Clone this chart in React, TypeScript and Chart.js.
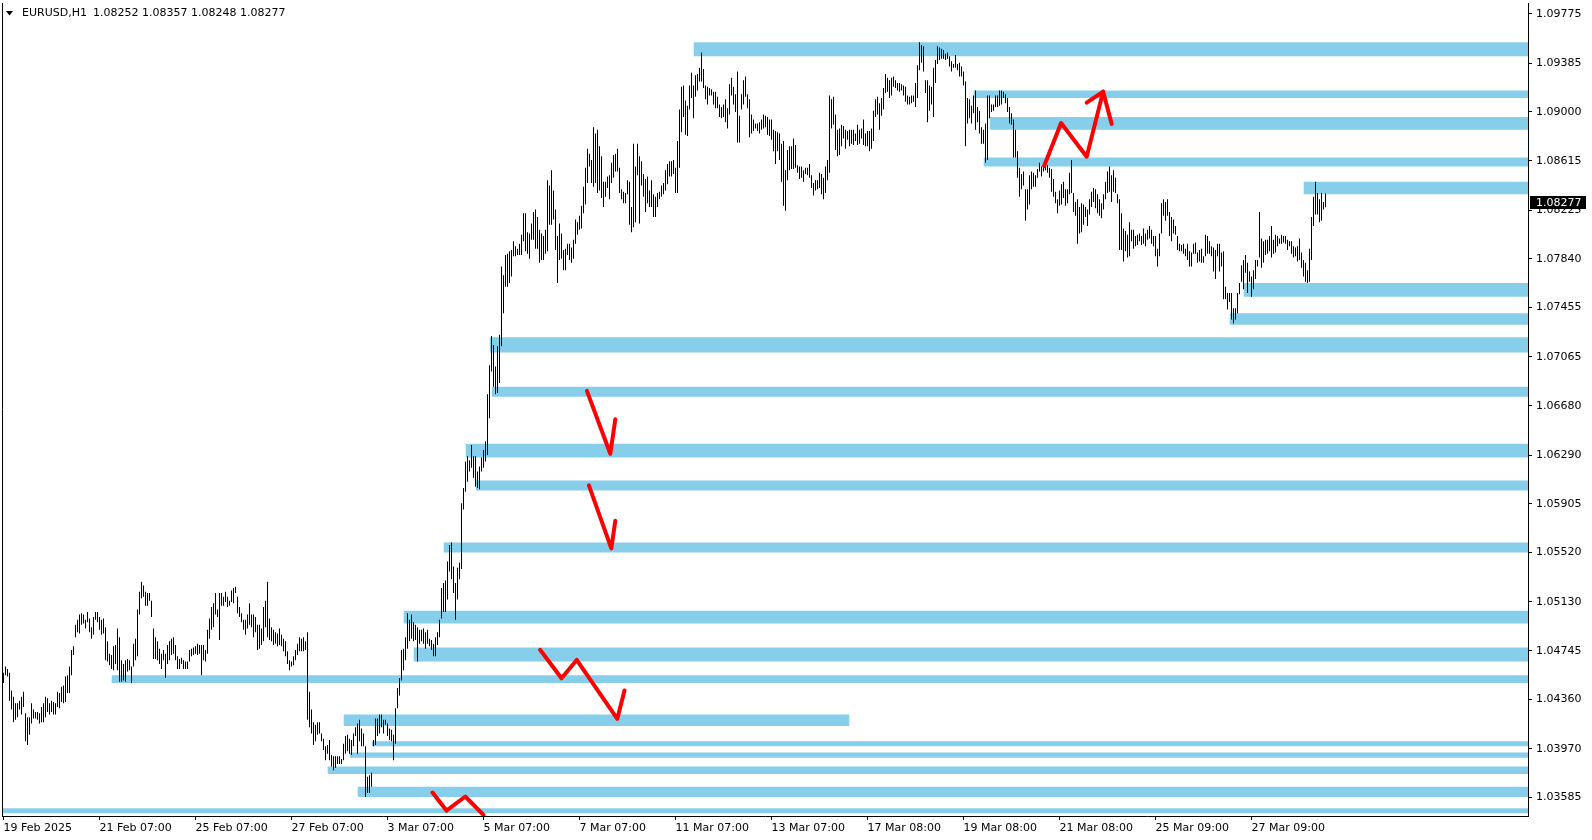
import React, { useEffect, useRef } from 'react';
import { Chart, registerables } from 'chart.js';

Chart.register(...registerables);

// ---------- header ----------
const symbolHeader = 'EURUSD,H1';
const headerOHLC = ['1.08252', '1.08357', '1.08248', '1.08277'];
const lastClose = 1.08277;

// ---------- H1 bars (high / low), bar index 0 = 19 Feb 2025 07:00 ----------
const highs = [
  1.0457,1.0462,1.0460,1.0457,1.0443,1.0438,1.0433,1.0433,1.0435,1.0438,
  1.0442,1.0425,1.0422,1.0422,1.0433,1.0428,1.0426,1.0426,1.0425,1.0430,
  1.0433,1.0438,1.0437,1.0433,1.0435,1.0434,1.0433,1.0442,1.0441,1.0446,
  1.0447,1.0454,1.0455,1.0462,1.0475,1.0478,1.0495,1.0499,1.0503,1.0504,
  1.0503,1.0499,1.0505,1.0500,1.0493,1.0501,1.0505,1.0505,1.0501,1.0499,
  1.0500,1.0493,1.0482,1.0472,1.0471,1.0478,1.0479,1.0492,1.0485,1.0467,
  1.0464,1.0467,1.0468,1.0467,1.0462,1.0480,1.0484,1.0507,1.0521,1.0529,
  1.0526,1.0521,1.0520,1.0520,1.0514,1.0492,1.0485,1.0482,1.0476,1.0472,
  1.0475,1.0472,1.0479,1.0482,1.0484,1.0485,1.0479,1.0470,1.0468,1.0469,
  1.0467,1.0466,1.0466,1.0475,1.0476,1.0477,1.0478,1.0480,1.0479,1.0479,
  1.0479,1.0475,1.0491,1.0500,1.0509,1.0512,1.0520,1.0507,1.0520,1.0520,
  1.0517,1.0521,1.0517,1.0514,1.0522,1.0524,1.0525,1.0517,1.0509,1.0504,
  1.0499,1.0499,1.0503,1.0512,1.0503,1.0503,1.0501,1.0495,1.0495,1.0492,
  1.0509,1.0514,1.0529,1.0500,1.0493,1.0491,1.0489,1.0488,1.0492,1.0487,
  1.0484,1.0482,1.0474,1.0467,1.0466,1.0470,1.0475,1.0480,1.0485,1.0484,
  1.0485,1.0482,1.0489,1.0442,1.0428,1.0418,1.0416,1.0418,1.0418,1.0409,
  1.0405,1.0399,1.0400,1.0404,1.0392,1.0391,1.0391,1.0391,1.0391,1.0389,
  1.0401,1.0407,1.0408,1.0405,1.0404,1.0409,1.0414,1.0417,1.0420,1.0413,
  1.0409,1.0399,1.0375,1.0376,1.0378,1.0404,1.0421,1.0421,1.0424,1.0424,
  1.0420,1.0420,1.0417,1.0413,1.0412,1.0408,1.0429,1.0445,1.0453,1.0475,
  1.0476,1.0485,1.0504,1.0499,1.0503,1.0497,1.0495,1.0493,1.0491,1.0491,
  1.0492,1.0489,1.0491,1.0484,1.0483,1.0480,1.0485,1.0489,1.0499,1.0524,
  1.0528,1.0530,1.0545,1.0558,1.0560,1.0541,1.0528,1.0540,1.0544,1.0591,
  1.0603,1.0624,1.0628,1.0625,1.0637,1.0628,1.0628,1.0616,1.0620,1.0627,
  1.0633,1.0640,1.0677,1.0700,1.0723,1.0716,1.0699,1.0715,1.0724,1.0778,
  1.0771,1.0787,1.0788,1.0790,1.0791,1.0798,1.0794,1.0792,1.0796,1.0803,
  1.0820,1.0820,1.0805,1.0804,1.0812,1.0821,1.0823,1.0817,1.0807,1.0804,
  1.0802,1.0807,1.0846,1.0842,1.0854,1.0838,1.0823,1.0802,1.0812,1.0804,
  1.0791,1.0792,1.0796,1.0796,1.0793,1.0799,1.0815,1.0813,1.0818,1.0826,
  1.0841,1.0856,1.0871,1.0867,1.0862,1.0888,1.0883,1.0886,1.0873,1.0865,
  1.0845,1.0845,1.0849,1.0850,1.0860,1.0866,1.0867,1.0871,1.0856,1.0839,
  1.0837,1.0836,1.0846,1.0845,1.0825,1.0875,1.0857,1.0875,1.0865,1.0861,
  1.0851,1.0847,1.0849,1.0838,1.0846,1.0835,1.0833,1.0836,1.0837,1.0842,
  1.0844,1.0854,1.0859,1.0861,1.0861,1.0862,1.0856,1.0877,1.0902,1.0920,
  1.0921,1.0909,1.0905,1.0921,1.0931,1.0921,1.0929,1.0930,1.0935,1.0947,
  1.0934,1.0921,1.0920,1.0919,1.0918,1.0916,1.0916,1.0912,1.0906,1.0904,
  1.0906,1.0910,1.0903,1.0922,1.0927,1.0920,1.0914,1.0932,1.0897,1.0914,
  1.0925,1.0928,1.0914,1.0910,1.0898,1.0894,1.0891,1.0891,1.0892,1.0894,
  1.0898,1.0897,1.0896,1.0894,1.0894,1.0886,1.0885,1.0884,1.0883,1.0875,
  1.0877,1.0854,1.0870,1.0873,1.0873,1.0879,1.0874,1.0858,1.0857,1.0857,
  1.0854,1.0856,1.0856,1.0859,1.0850,1.0844,1.0846,1.0846,1.0852,1.0851,
  1.0848,1.0857,1.0862,1.0913,1.0910,1.0912,1.0898,1.0886,1.0887,1.0890,
  1.0889,1.0886,1.0885,1.0886,1.0886,1.0886,1.0883,1.0890,1.0886,1.0887,
  1.0894,1.0883,1.0885,1.0885,1.0887,1.0901,1.0910,1.0912,1.0907,1.0911,
  1.0919,1.0930,1.0927,1.0925,1.0927,1.0928,1.0925,1.0923,1.0923,1.0922,
  1.0921,1.0920,1.0913,1.0912,1.0913,1.0913,1.0923,1.0937,1.0955,1.0953,
  1.0952,1.0925,1.0925,1.0921,1.0920,1.0935,1.0941,1.0952,1.0951,1.0950,
  1.0949,1.0946,1.0947,1.0944,1.0940,1.0938,1.0945,1.0938,1.0939,1.0936,
  1.0932,1.0924,1.0911,1.0910,1.0905,1.0913,1.0917,1.0904,1.0901,1.0888,
  1.0886,1.0891,1.0913,1.0913,1.0906,1.0906,1.0913,1.0913,1.0917,1.0917,
  1.0916,1.0914,1.0911,1.0904,1.0899,1.0894,1.0886,1.0869,1.0856,1.0851,
  1.0853,1.0839,1.0839,1.0850,1.0853,1.0852,1.0850,1.0855,1.0860,1.0857,
  1.0859,1.0860,1.0858,1.0856,1.0855,1.0847,1.0837,1.0831,1.0838,1.0843,
  1.0845,1.0839,1.0839,1.0852,1.0862,1.0836,1.0829,1.0831,1.0825,1.0828,
  1.0827,1.0825,1.0823,1.0831,1.0837,1.0840,1.0839,1.0835,1.0831,1.0828,
  1.0835,1.0845,1.0853,1.0857,1.0850,1.0854,1.0848,1.0835,1.0831,1.0820,
  1.0808,1.0806,1.0803,1.0813,1.0807,1.0807,1.0802,1.0803,1.0804,1.0802,
  1.0808,1.0804,1.0807,1.0810,1.0807,1.0802,1.0802,1.0792,1.0804,1.0828,
  1.0831,1.0829,1.0831,1.0821,1.0817,1.0815,1.0810,1.0802,1.0796,1.0795,
  1.0796,1.0792,1.0796,1.0790,1.0789,1.0796,1.0797,1.0789,1.0791,1.0792,
  1.0786,1.0803,1.0802,1.0798,1.0794,1.0793,1.0791,1.0796,1.0796,1.0789,
  1.0790,1.0762,1.0757,1.0757,1.0757,1.0745,1.0745,1.0757,1.0765,1.0779,
  1.0783,1.0787,1.0781,1.0774,1.0770,1.0775,1.0783,1.0783,1.0821,1.0800,
  1.0798,1.0799,1.0799,1.0802,1.0810,1.0799,1.0803,1.0802,1.0800,1.0803,
  1.0802,1.0802,1.0799,1.0798,1.0798,1.0794,1.0793,1.0794,1.0800,1.0789,
  1.0783,1.0781,1.0775,1.0792,1.0817,1.0833,1.0845,1.0836,1.0831,1.0836,
  1.0829,1.08357
];

const lows = [
  1.0449,1.0455,1.0454,1.0435,1.0428,1.0418,1.0420,1.0422,1.0428,1.0424,
  1.0430,1.0403,1.0400,1.0408,1.0417,1.0421,1.0421,1.0420,1.0417,1.0418,
  1.0418,1.0422,1.0426,1.0424,1.0426,1.0424,1.0424,1.0430,1.0429,1.0434,
  1.0433,1.0434,1.0441,1.0441,1.0455,1.0471,1.0485,1.0489,1.0488,1.0495,
  1.0496,1.0492,1.0497,1.0489,1.0484,1.0487,1.0499,1.0497,1.0491,1.0487,
  1.0488,1.0467,1.0466,1.0463,1.0460,1.0459,1.0464,1.0459,1.0450,1.0450,
  1.0451,1.0450,1.0458,1.0459,1.0449,1.0462,1.0467,1.0470,1.0503,1.0516,
  1.0517,1.0510,1.0510,1.0514,1.0501,1.0468,1.0468,1.0467,1.0464,1.0460,
  1.0467,1.0453,1.0464,1.0467,1.0471,1.0472,1.0467,1.0460,1.0460,1.0464,
  1.0460,1.0460,1.0460,1.0466,1.0470,1.0471,1.0472,1.0471,1.0472,1.0455,
  1.0467,1.0466,1.0472,1.0484,1.0491,1.0493,1.0503,1.0501,1.0483,1.0510,
  1.0510,1.0513,1.0509,1.0510,1.0513,1.0512,1.0520,1.0504,1.0501,1.0497,
  1.0491,1.0487,1.0492,1.0495,1.0493,1.0485,1.0489,1.0475,1.0476,1.0479,
  1.0482,1.0493,1.0485,1.0483,1.0482,1.0479,1.0480,1.0478,1.0479,1.0478,
  1.0474,1.0470,1.0464,1.0459,1.0462,1.0463,1.0467,1.0471,1.0474,1.0474,
  1.0474,1.0475,1.0420,1.0414,1.0409,1.0400,1.0403,1.0408,1.0409,1.0403,
  1.0396,1.0388,1.0393,1.0388,1.0383,1.0380,1.0382,1.0385,1.0385,1.0385,
  1.0388,1.0393,1.0395,1.0393,1.0392,1.0399,1.0407,1.0393,1.0403,1.0399,
  1.0399,1.0359,1.0362,1.0362,1.0367,1.0399,1.0400,1.0407,1.0409,1.0414,
  1.0409,1.0416,1.0407,1.0404,1.0403,1.0388,1.0401,1.0429,1.0439,1.0451,
  1.0459,1.0467,1.0476,1.0482,1.0484,1.0482,1.0483,1.0466,1.0480,1.0482,
  1.0480,1.0476,1.0480,1.0478,1.0475,1.0470,1.0470,1.0479,1.0485,1.0500,
  1.0505,1.0505,1.0515,1.0537,1.0531,1.0520,1.0499,1.0515,1.0531,1.0539,
  1.0586,1.0600,1.0608,1.0616,1.0619,1.0611,1.0604,1.0603,1.0602,1.0616,
  1.0619,1.0624,1.0629,1.0658,1.0695,1.0683,1.0677,1.0678,1.0686,1.0715,
  1.0741,1.0762,1.0762,1.0765,1.0770,1.0786,1.0786,1.0787,1.0787,1.0787,
  1.0798,1.0790,1.0788,1.0784,1.0799,1.0799,1.0792,1.0792,1.0781,1.0783,
  1.0783,1.0788,1.0790,1.0811,1.0811,1.0815,1.0791,1.0765,1.0783,1.0784,
  1.0775,1.0775,1.0787,1.0783,1.0781,1.0784,1.0796,1.0803,1.0807,1.0808,
  1.0820,1.0827,1.0844,1.0857,1.0844,1.0841,1.0844,1.0836,1.0838,1.0832,
  1.0825,1.0833,1.0840,1.0831,1.0844,1.0848,1.0853,1.0853,1.0836,1.0831,
  1.0828,1.0828,1.0835,1.0811,1.0805,1.0809,1.0813,1.0850,1.0812,1.0842,
  1.0833,1.0821,1.0828,1.0825,1.0825,1.0817,1.0817,1.0825,1.0831,1.0833,
  1.0835,1.0838,1.0843,1.0849,1.0849,1.0851,1.0836,1.0836,1.0856,1.0884,
  1.0896,1.0882,1.0881,1.0902,1.0911,1.0895,1.0912,1.0917,1.0924,1.0924,
  1.0919,1.0910,1.0906,1.0913,1.0913,1.0906,1.0903,1.0903,1.0896,1.0895,
  1.0896,1.0892,1.0887,1.0898,1.0913,1.0906,1.0900,1.0876,1.0876,1.0902,
  1.0906,1.0912,1.0903,1.0880,1.0883,1.0885,1.0887,1.0885,1.0883,1.0886,
  1.0887,1.0888,1.0882,1.0881,1.0878,1.0869,1.0859,1.0869,1.0862,1.0845,
  1.0826,1.0822,1.0846,1.0854,1.0855,1.0855,1.0856,1.0852,1.0847,1.0848,
  1.0845,1.0851,1.0850,1.0848,1.0840,1.0834,1.0838,1.0839,1.0840,1.0835,
  1.0831,1.0836,1.0846,1.0852,1.0887,1.0890,1.0870,1.0865,1.0866,1.0873,
  1.0879,1.0871,1.0878,1.0873,1.0875,1.0874,1.0877,1.0874,1.0875,1.0879,
  1.0874,1.0873,1.0873,1.0869,1.0871,1.0877,1.0896,1.0898,1.0886,1.0897,
  1.0902,1.0915,1.0916,1.0911,1.0913,1.0920,1.0919,1.0917,1.0916,1.0917,
  1.0913,1.0908,1.0906,1.0906,1.0907,1.0908,1.0904,1.0911,1.0933,1.0939,
  1.0932,1.0915,1.0892,1.0901,1.0906,1.0896,1.0923,1.0938,1.0941,1.0942,
  1.0942,1.0941,1.0942,1.0936,1.0932,1.0935,1.0935,1.0933,1.0928,1.0928,
  1.0921,1.0873,1.0891,1.0895,1.0891,1.0899,1.0886,1.0892,1.0883,1.0875,
  1.0875,1.0860,1.0862,1.0895,1.0900,1.0901,1.0904,1.0904,1.0905,1.0906,
  1.0911,1.0907,1.0900,1.0891,1.0890,1.0864,1.0864,1.0848,1.0833,1.0839,
  1.0842,1.0814,1.0823,1.0827,1.0839,1.0841,1.0841,1.0848,1.0853,1.0849,
  1.0853,1.0854,1.0852,1.0848,1.0837,1.0833,1.0828,1.0820,1.0826,1.0827,
  1.0832,1.0826,1.0828,1.0835,1.0836,1.0821,1.0818,1.0796,1.0804,1.0805,
  1.0811,1.0817,1.0810,1.0819,1.0825,1.0829,1.0824,1.0820,1.0818,1.0816,
  1.0823,1.0831,1.0836,1.0837,1.0829,1.0837,1.0836,1.0828,1.0791,1.0791,
  1.0782,1.0790,1.0785,1.0786,1.0798,1.0792,1.0794,1.0795,1.0798,1.0795,
  1.0796,1.0794,1.0799,1.0800,1.0796,1.0794,1.0786,1.0778,1.0786,1.0804,
  1.0818,1.0814,1.0818,1.0802,1.0798,1.0804,1.0803,1.0791,1.0790,1.0790,
  1.0788,1.0786,1.0783,1.0778,1.0778,1.0788,1.0788,1.0781,1.0782,1.0781,
  1.0781,1.0786,1.0788,1.0788,1.0786,1.0774,1.0768,1.0786,1.0774,1.0778,
  1.0752,1.0752,1.0744,1.0750,1.0736,1.0733,1.0736,1.0741,1.0756,1.0766,
  1.0760,1.0773,1.0757,1.0766,1.0754,1.0760,1.0768,1.0778,1.0785,1.0777,
  1.0781,1.0787,1.0788,1.0790,1.0785,1.0788,1.0789,1.0794,1.0796,1.0796,
  1.0797,1.0796,1.0791,1.0794,1.0788,1.0785,1.0786,1.0782,1.0783,1.0777,
  1.0770,1.0766,1.0765,1.0766,1.0783,1.0810,1.0819,1.0819,1.0813,1.0814,
  1.0823,1.08248
];

// ---------- time axis ----------
const xTickBars = [0, 48, 96, 144, 192, 240, 288, 336, 384, 432, 480, 528, 576, 624];
const xTickLabels = [
  '19 Feb 2025', '21 Feb 07:00', '25 Feb 07:00', '27 Feb 07:00', '3 Mar 07:00',
  '5 Mar 07:00', '7 Mar 07:00', '11 Mar 07:00', '13 Mar 07:00', '17 Mar 08:00',
  '19 Mar 08:00', '21 Mar 08:00', '25 Mar 09:00', '27 Mar 09:00'
];

// ---------- price axis ----------
const yTickValues = [
  1.03585, 1.03970, 1.04360, 1.04745, 1.05130, 1.05520, 1.05905, 1.06290, 1.06680,
  1.07065, 1.07455, 1.07840, 1.08225, 1.08615, 1.09000, 1.09385, 1.09775
];
const priceMin = 1.03439;
const priceMax = 1.09861;
const barMin = -0.75;
const barMax = 762.25;

// ---------- supply / demand zones ----------
const zoneStart = [345, 485, 493, 490, 650, 620, 613, 243, 244, 231, 236, 220, 200, 205, 54, 170, 184, 173, 162, 177, -1];
const zoneEnd = [null, null, null, null, null, null, null, null, null, null, null, null, null, null, null, 423, null, null, null, null, null];
const zoneTop = [1.0955, 1.0917, 1.0896, 1.0864, 1.0845, 1.0765, 1.0741, 1.0722, 1.0683, 1.0638, 1.0609, 1.0560, 1.0506, 1.0477, 1.0455, 1.0424, 1.0403, 1.0394, 1.0383, 1.0367, 1.0350];
const zoneBottom = [1.0944, 1.0911, 1.0886, 1.0857, 1.0835, 1.0754, 1.0732, 1.0710, 1.0675, 1.0627, 1.0601, 1.0552, 1.0496, 1.0466, 1.0449, 1.0415, 1.0399, 1.0390, 1.0377, 1.0359, 1.0346];

// ---------- hand-drawn red arrows (bar index, price) ----------
const arrowAX = [291.7, 303.4, 305.9];
const arrowAY = [1.06797, 1.06300, 1.06573];
const arrowBX = [292.7, 303.9, 305.9];
const arrowBY = [1.06051, 1.05553, 1.05771];
const arrowCX = [268.3, 279.0, 286.6, 306.9, 310.5];
const arrowCY = [1.04752, 1.04527, 1.04672, 1.04207, 1.04431];
const arrowDX = [214.5, 221.5, 230.9, 240.0];
const arrowDY = [1.03624, 1.03482, 1.03593, 1.03447];
const arrowEX = [520.3, 528.8, 541.6, 549.8, 554.1];
const arrowEY = [1.08574, 1.08913, 1.08647, 1.09161, 1.08905];
const arrowEHeadX = [541.6, 549.8];
const arrowEHeadY = [1.09074, 1.09161];

const FONT = '"DejaVu Sans", "Liberation Sans", sans-serif';

function pts(xs: number[], ys: number[]) {
  return xs.map((x, i) => ({ x, y: ys[i] }));
}

const overlayPlugin = {
  id: 'mt4Overlay',
  afterDraw(chart: any) {
    const { ctx, chartArea, scales } = chart;
    ctx.save();
    ctx.strokeStyle = '#000';
    ctx.lineWidth = 1;
    ctx.beginPath();
    ctx.moveTo(2.5, chartArea.top);
    ctx.lineTo(2.5, chartArea.bottom);
    ctx.stroke();

    // header
    ctx.fillStyle = '#000';
    ctx.beginPath();
    ctx.moveTo(6, 11);
    ctx.lineTo(13, 11);
    ctx.lineTo(9.5, 15.5);
    ctx.closePath();
    ctx.fill();
    ctx.font = '11px ' + FONT;
    ctx.textBaseline = 'middle';
    ctx.textAlign = 'left';
    ctx.fillText(symbolHeader, 22, 13);
    ctx.fillText(headerOHLC.join(' '), 93, 13);

    // current price label
    const y = scales.y.getPixelForValue(lastClose);
    ctx.fillStyle = '#000';
    ctx.fillRect(1530, Math.floor(y) - 7, 56, 13);
    ctx.fillStyle = '#fff';
    ctx.fillText(lastClose.toFixed(5), 1536, Math.floor(y));
    ctx.restore();
  },
};

export default function App() {
  const canvasRef = useRef<HTMLCanvasElement | null>(null);

  useEffect(() => {
    const canvas = canvasRef.current;
    if (!canvas) return;
    Chart.defaults.font.family = FONT;

    const zoneSets = zoneStart.map((s, i) => ({
      type: 'line' as const,
      data: [
        { x: s, y: zoneTop[i] },
        { x: zoneEnd[i] === null ? barMax : (zoneEnd[i] as number), y: zoneTop[i] },
      ],
      borderWidth: 0,
      borderColor: 'rgba(0,0,0,0)',
      backgroundColor: '#87CEEB',
      pointRadius: 0,
      fill: { value: zoneBottom[i] },
      tension: 0,
      order: 3,
    }));

    const arrowStyle = {
      type: 'line' as const,
      borderColor: '#FF0000',
      borderWidth: 4,
      pointRadius: 0,
      fill: false,
      tension: 0,
      borderCapStyle: 'round' as const,
      borderJoinStyle: 'round' as const,
      order: 0,
    };

    const chart = new Chart(canvas, {
      type: 'bar',
      data: {
        datasets: [
          { ...arrowStyle, data: pts(arrowAX, arrowAY) },
          { ...arrowStyle, data: pts(arrowBX, arrowBY) },
          { ...arrowStyle, data: pts(arrowCX, arrowCY) },
          { ...arrowStyle, data: pts(arrowDX, arrowDY) },
          { ...arrowStyle, data: pts(arrowEX, arrowEY) },
          { ...arrowStyle, data: pts(arrowEHeadX, arrowEHeadY) },
          {
            type: 'bar',
            data: highs.map((h, i) => ({ x: i, y: [lows[i], h] })),
            backgroundColor: '#000',
            borderWidth: 0,
            barThickness: 1,
            inflateAmount: 0,
            grouped: false,
            order: 1,
          } as any,
          ...zoneSets,
        ] as any,
      },
      options: {
        responsive: false,
        animation: false,
        devicePixelRatio: 1,
        events: [],
        layout: { padding: { left: 2, top: 3, right: 0, bottom: 0 } },
        plugins: { legend: { display: false }, tooltip: { enabled: false } },
        scales: {
          x: {
            type: 'linear',
            min: barMin,
            max: barMax,
            offset: false,
            position: 'bottom',
            grid: { drawOnChartArea: false, drawTicks: true, tickLength: 4, color: '#000', offset: false },
            border: { display: true, color: '#000', width: 1 },
            ticks: {
              autoSkip: false,
              maxRotation: 0,
              align: 'start',
              padding: 2,
              color: '#000',
              font: { family: FONT, size: 11 },
              callback: (v: any) => {
                const k = xTickBars.indexOf(Number(v));
                return k >= 0 ? xTickLabels[k] : '';
              },
            },
            afterBuildTicks: (s: any) => {
              s.ticks = xTickBars.map((v) => ({ value: v }));
            },
            afterFit: (s: any) => {
              s.height = 24;
              s.paddingLeft = 0;
              s.paddingRight = 0;
            },
          },
          y: {
            type: 'linear',
            position: 'right',
            min: priceMin,
            max: priceMax,
            grid: { drawOnChartArea: false, drawTicks: true, tickLength: 4, color: '#000' },
            border: { display: true, color: '#000', width: 1 },
            ticks: {
              autoSkip: false,
              padding: 4,
              color: '#000',
              font: { family: FONT, size: 11 },
              callback: (v: any) => Number(v).toFixed(5),
            },
            afterBuildTicks: (s: any) => {
              s.ticks = yTickValues.map((v) => ({ value: v }));
            },
            afterFit: (s: any) => {
              s.width = 64;
              s.paddingTop = 0;
              s.paddingBottom = 0;
            },
          },
        },
      } as any,
      plugins: [overlayPlugin],
    });

    return () => chart.destroy();
  }, []);

  return (
    <div style={{ position: 'fixed', left: 0, top: 0, width: 1592, height: 840, background: '#fff' }}>
      <canvas ref={canvasRef} width={1592} height={840} style={{ display: 'block' }} />
    </div>
  );
}
